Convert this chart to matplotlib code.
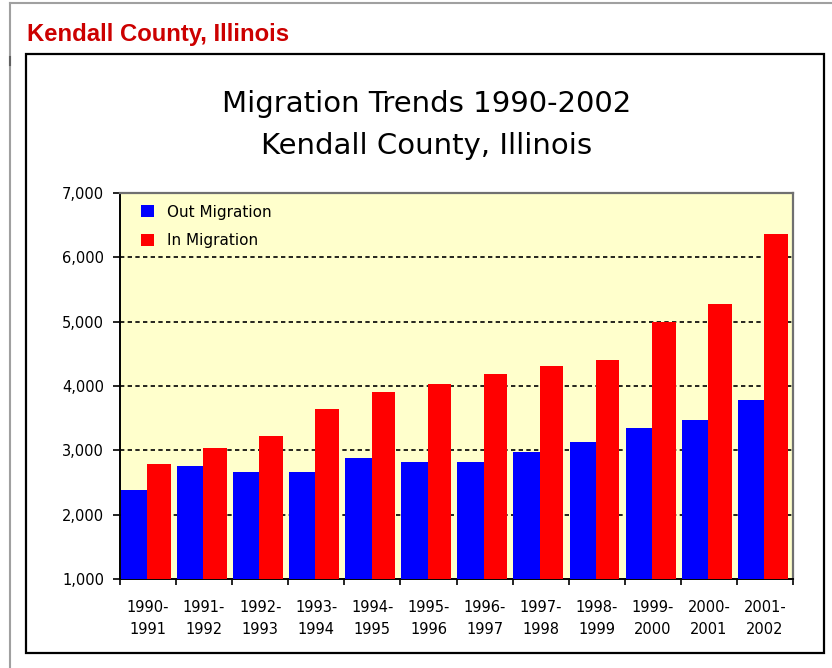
import matplotlib
matplotlib.use("Agg")
import matplotlib.pyplot as plt
from matplotlib.patches import Rectangle
from matplotlib.lines import Line2D
import numpy as np

periods = ["1990-\n1991", "1991-\n1992", "1992-\n1993", "1993-\n1994", "1994-\n1995",
           "1995-\n1996", "1996-\n1997", "1997-\n1998", "1998-\n1999", "1999-\n2000",
           "2000-\n2001", "2001-\n2002"]
out_migration = [2380, 2750, 2660, 2660, 2880, 2820, 2820, 2980, 3130, 3340, 3470, 3780]
in_migration = [2780, 3030, 3220, 3650, 3900, 4030, 4180, 4310, 4400, 4990, 5270, 6360]
y_ticks = [1000, 2000, 3000, 4000, 5000, 6000, 7000]
y_tick_labels = ["1,000", "2,000", "3,000", "4,000", "5,000", "6,000", "7,000"]

W, H = 832, 668
fig = plt.figure(figsize=(W / 100, H / 100), dpi=100)
fig.patch.set_facecolor("white")

# page decorations
fig.add_artist(Line2D([10 / W, 10 / W], [0, 1 - 3 / H], color="#a0a0a0", lw=1.5, transform=fig.transFigure))
fig.add_artist(Line2D([10 / W, 1], [1 - 3 / H, 1 - 3 / H], color="#a0a0a0", lw=1.5, transform=fig.transFigure))
fig.add_artist(Line2D([10 / W, 10 / W], [1 - 57 / H, 1 - 65 / H], color="#606060", lw=1.5, transform=fig.transFigure))
fig.add_artist(Rectangle((26 / W, 1 - 653 / H), (824 - 26) / W, (653 - 54) / H, fill=False,
                         edgecolor="black", lw=1.6, transform=fig.transFigure))

fig.text(27 / W, 1 - 41 / H, "Kendall County, Illinois", color="#CC0000", fontsize=17.2,
         fontweight="bold", family="Liberation Sans", ha="left", va="baseline")

fig.text(427 / W, 1 - 112 / H, "Migration Trends 1990-2002", fontsize=21, family="DejaVu Sans",
         ha="center", va="baseline")
fig.text(427 / W, 1 - 154 / H, "Kendall County, Illinois", fontsize=21, family="DejaVu Sans",
         ha="center", va="baseline")

ax = fig.add_axes([120 / W, 1 - 579 / H, (793 - 120) / W, (579 - 193) / H])
ax.set_facecolor("#FFFFCC")

x = np.arange(len(periods))
ax.bar(x + 0.015, np.array(out_migration) - 1000, bottom=1000, width=0.47, align="edge",
       color="#0000FF", label="Out Migration", zorder=3)
ax.bar(x + 0.485, np.array(in_migration) - 1000, bottom=1000, width=0.42, align="edge",
       color="#FF0000", label="In Migration", zorder=3)

ax.set_xlim(0, len(periods))
ax.set_ylim(1000, 7000)

for yv in y_ticks[1:-1]:
    ax.axhline(yv, color="black", lw=1.2, linestyle=(0, (2.6, 2.0)), zorder=2)

ax.set_yticks(y_ticks)
ax.set_yticklabels(y_tick_labels, fontsize=10.5, family="DejaVu Sans")
ax.tick_params(axis="y", direction="out", length=5, width=1.2, pad=6.5)

ax.set_xticks(np.arange(len(periods) + 1))
ax.set_xticklabels([])
ax.set_xticks(x + 0.5, minor=True)
ax.set_xticklabels(periods, minor=True, fontsize=10.5, family="DejaVu Sans", linespacing=1.6)
ax.tick_params(axis="x", which="major", direction="out", length=4, width=1.2)
ax.tick_params(axis="x", which="minor", length=0, pad=15)

for s in ["left", "bottom"]:
    ax.spines[s].set_color("black")
    ax.spines[s].set_linewidth(1.4)
for s in ["top", "right"]:
    ax.spines[s].set_color("#707070")
    ax.spines[s].set_linewidth(1.6)

leg = ax.legend(loc="upper left", bbox_to_anchor=(0.031, 0.970), frameon=False,
                prop={"family": "DejaVu Sans", "size": 11},
                handlelength=0.85, handleheight=0.85, handletextpad=0.85, labelspacing=0.88,
                borderpad=0, borderaxespad=0)

fig.savefig("out.png", dpi=100, facecolor="white")
